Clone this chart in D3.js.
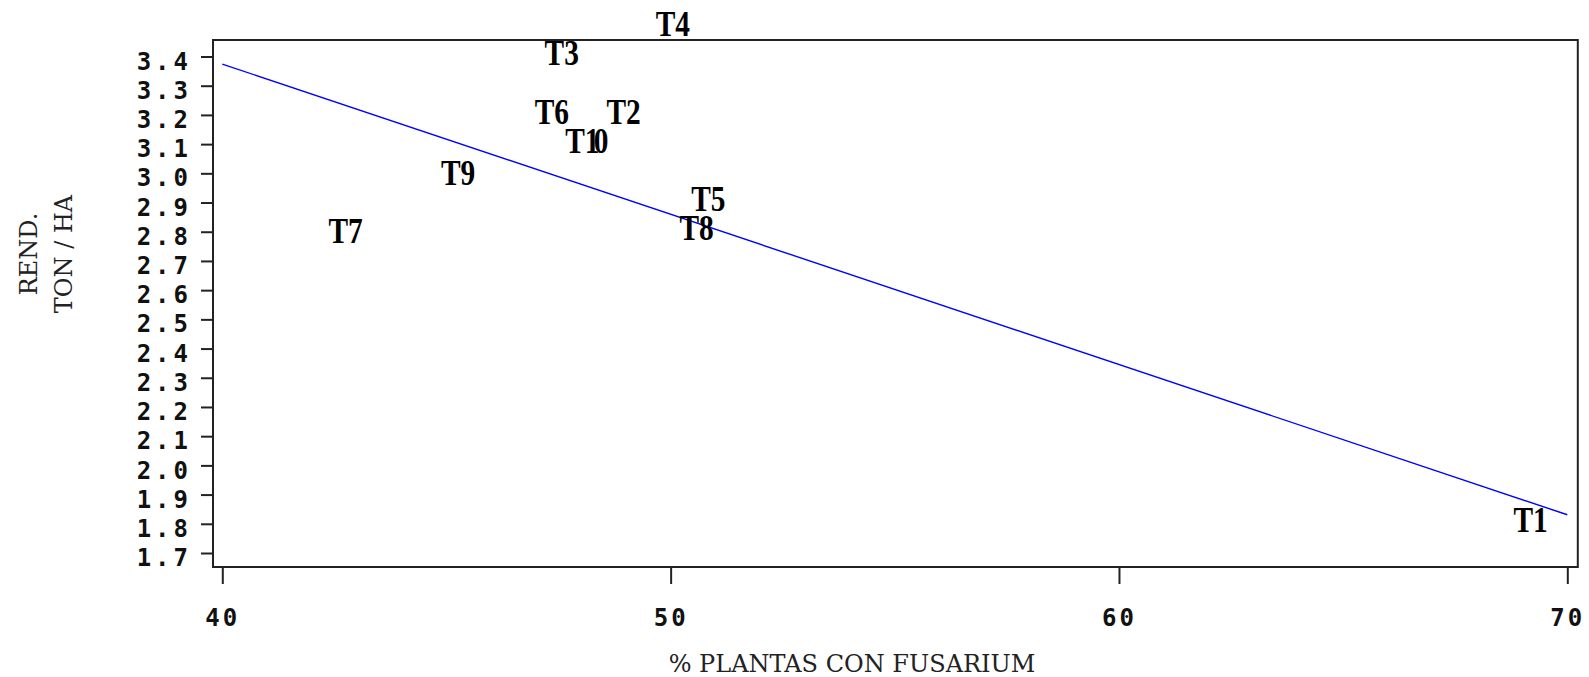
<!DOCTYPE html>
<html>
<head>
<meta charset="utf-8">
<script src="https://cdn.jsdelivr.net/npm/d3@7"></script>
<style>
  body { margin: 0; background: #fff; }
  svg { display: block; }
</style>
</head>
<body>
<script>
var width = 1589;
var height = 677;

// data
var labels = ['T1', 'T2', 'T3', 'T4', 'T5', 'T6', 'T7', 'T8', 'T9', 'T10'];
var pctFusarium = [69.18, 48.95, 47.57, 50.05, 50.84, 47.35, 42.75, 50.58, 45.26, 48.13];
var rendimiento = [1.81, 3.21, 3.41, 3.51, 2.91, 3.21, 2.80, 2.81, 3.00, 3.11];

// fitted line, end points
var fitX = [40, 70];
var fitY = [3.374, 1.831];

var xTicks = [40, 50, 60, 70];
var yTicks = [1.7, 1.8, 1.9, 2.0, 2.1, 2.2, 2.3, 2.4, 2.5, 2.6, 2.7, 2.8, 2.9, 3.0, 3.1, 3.2, 3.3, 3.4];

var xTitle = '% PLANTAS CON FUSARIUM';
var yTitle = ['REND.', 'TON / HA'];

var x = d3.scaleLinear().domain([40, 70]).range([222.3, 1567.3]);
var y = d3.scaleLinear().domain([1.7, 3.4]).range([553, 56.5]);

var frame = {
  left: x(40) - 9.3,
  right: x(70) + 10.5,
  top: y(3.4) - 16.5,
  bottom: y(1.7) + 14
};

var svg = d3.select('body').append('svg')
  .attr('width', width)
  .attr('height', height);

svg.append('rect')
  .attr('width', width)
  .attr('height', height)
  .attr('fill', '#fff');

// regression line
svg.append('line')
  .attr('x1', x(fitX[0]))
  .attr('y1', y(fitY[0]))
  .attr('x2', x(fitX[1]))
  .attr('y2', y(fitY[1]))
  .attr('stroke', '#0000ff')
  .attr('stroke-width', 1.4);

// frame
svg.append('rect')
  .attr('x', frame.left)
  .attr('y', frame.top)
  .attr('width', frame.right - frame.left)
  .attr('height', frame.bottom - frame.top)
  .attr('fill', 'none')
  .attr('stroke', '#222')
  .attr('stroke-width', 2);

// y axis
var yAxis = svg.append('g')
  .attr('transform', 'translate(' + frame.left + ',0)')
  .call(d3.axisLeft(y).tickValues(yTicks).tickFormat(d3.format('.1f')).tickSize(12).tickSizeOuter(0));

yAxis.select('.domain').remove();
yAxis.selectAll('.tick line').attr('stroke', '#222').attr('stroke-width', 2);
yAxis.selectAll('.tick text')
  .attr('x', -21)
  .attr('dy', '0.36em')
  .attr('transform', 'translate(0,4)')
  .attr('fill', '#111')
  .style('font-family', '"DejaVu Sans Mono", monospace')
  .style('font-weight', 'bold')
  .style('font-size', '24px')
  .style('letter-spacing', '4px');

// x axis
var xAxis = svg.append('g')
  .attr('transform', 'translate(0,' + frame.bottom + ')')
  .call(d3.axisBottom(x).tickValues(xTicks).tickFormat(d3.format('d')).tickSize(17).tickSizeOuter(0));

xAxis.select('.domain').remove();
xAxis.selectAll('.tick line').attr('stroke', '#222').attr('stroke-width', 2);
xAxis.selectAll('.tick text')
  .attr('y', 59)
  .attr('dy', 0)
  .attr('dx', 0)
  .attr('fill', '#111')
  .style('font-family', '"DejaVu Sans Mono", monospace')
  .style('font-weight', 'bold')
  .style('font-size', '24px')
  .style('letter-spacing', '3px');

// axis titles
svg.append('text')
  .attr('x', 852)
  .attr('y', 672)
  .attr('text-anchor', 'middle')
  .attr('fill', '#222')
  .style('font-family', '"DejaVu Serif", serif')
  .style('font-size', '24px')
  .text(xTitle);

svg.selectAll('.ytitle')
  .data(yTitle)
  .enter()
    .append('text')
    .attr('class', 'ytitle')
    .attr('transform', function(d, i) {
      return 'translate(' + (37 + i * 35) + ',254) rotate(-90)';
    })
    .attr('text-anchor', 'middle')
    .attr('fill', '#222')
    .style('font-family', '"DejaVu Serif", serif')
    .style('font-size', '24px')
    .text(function(d) { return d; });

// point labels used as markers
var points = labels.map(function(d, i) {
  return { label: d, x: pctFusarium[i], y: rendimiento[i] };
});

var marks = svg.selectAll('.mark')
  .data(points)
  .enter()
    .append('text')
    .attr('class', 'mark')
    .attr('transform', function(d) {
      return 'translate(' + x(d.x) + ',' + y(d.y) + ') scale(0.84,1)';
    })
    .attr('dy', '0.33em')
    .attr('text-anchor', 'middle')
    .attr('fill', '#000')
    .style('font-family', '"Liberation Serif", "Times New Roman", serif')
    .style('font-weight', 'bold')
    .style('font-size', '35px');

marks.each(function(d) {
  var t = d3.select(this);
  if (d.label.length > 2) {
    // the original squeezes the last digit onto the one before it
    t.append('tspan').text(d.label.slice(0, 2));
    t.append('tspan').attr('dx', -7).text(d.label.slice(2));
  } else {
    t.text(d.label);
  }
});
</script>
</body>
</html>
